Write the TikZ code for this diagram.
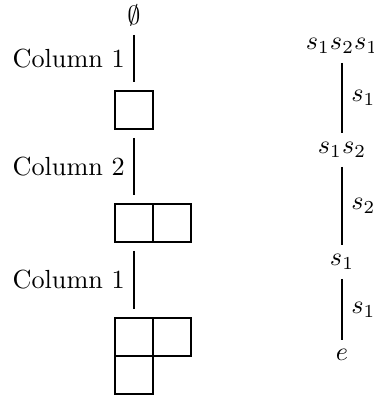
\documentclass[tikz,border=0pt]{standalone}
\begin{document}
\begin{tikzpicture}[x=0.3817pt, y=-0.3817pt,
  cell/.style={draw, minimum size=14.5pt, inner sep=0pt, outer sep=3.4pt},
  word/.style={inner sep=3.33pt}]
\useasboundingbox (0,0) rectangle (374,402);

% Growth of Young diagrams, one column at a time
\node[word] (empty) at (134,15) {$\emptyset$};
\node[cell] (a1) at (134,110) {};
\node[cell] (b1) at (134,223) {};
\node[cell] (b2) at (172,223) {};
\node[cell] (c1) at (134,337) {};
\node[cell] (c2) at (172,337) {};
\node[cell] (c3) at (134,375) {};

\draw (empty) -- node[left] {Column 1} (a1);
\draw (a1) -- node[left] {Column 2} (b1);
\draw (b1) -- node[left] {Column 1} (c1);

% Corresponding chain of words
\node[word] (w3) at (342,46) {$s_1s_2s_1$};
\node[word] (w2) at (342,150) {$s_1s_2$};
\node[word] (w1) at (342,262) {$s_1$};
\node[word] (w0) at (342,355) {$e$};

\draw (w3) -- node[right] {$s_1$} (w2);
\draw (w2) -- node[right] {$s_2$} (w1);
\draw (w1) -- node[right] {$s_1$} (w0);
\end{tikzpicture}
\end{document}
